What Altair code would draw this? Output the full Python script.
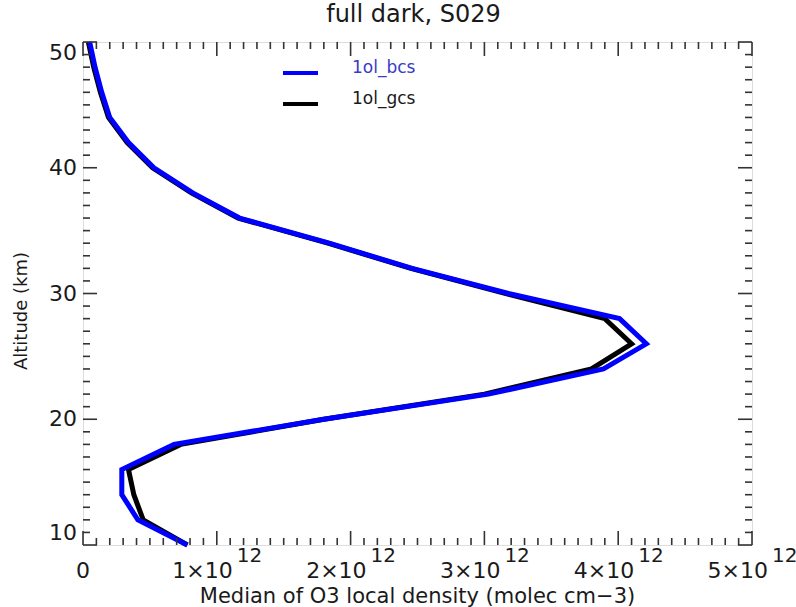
import altair as alt
import pandas as pd
import numpy as np

# Median O3 local density profiles (molec cm-3) on a 2 km altitude grid
altitude_km = [50, 48, 46, 44, 42, 40, 38, 36, 34, 32, 30, 28, 26, 24, 22, 20, 18, 16, 14, 12, 10]
o3_bcs = [0.05e12, 0.09e12, 0.14e12, 0.20e12, 0.34e12, 0.53e12, 0.82e12, 1.17e12, 1.84e12, 2.46e12,
          3.18e12, 4.01e12, 4.21e12, 3.89e12, 3.03e12, 1.80e12, 0.68e12, 0.29e12, 0.29e12, 0.41e12, 0.78e12]
o3_gcs = [0.04e12, 0.08e12, 0.13e12, 0.19e12, 0.33e12, 0.52e12, 0.81e12, 1.16e12, 1.83e12, 2.45e12,
          3.16e12, 3.90e12, 4.10e12, 3.80e12, 3.00e12, 1.80e12, 0.73e12, 0.34e12, 0.38e12, 0.45e12, 0.78e12]

series_names = ["1ol_bcs", "1ol_gcs"]
series_colors = ["#0000ff", "#000000"]
legend_text_colors = ["#3a3ac8", "#1a1a1a"]

x_tick_values = [0, 1e12, 2e12, 3e12, 4e12, 5e12]
x_tick_base = ["0", "1×10", "2×10", "3×10", "4×10", "5×10"]
x_tick_exp = ["", "12", "12", "12", "12", "12"]
y_tick_values = [10, 20, 30, 40, 50]
y_tick_labels = ["10", "20", "30", "40", "50"]

title_text = "full dark, S029"
x_title = "Median of O3 local density (molec cm−3)"
y_title = "Altitude (km)"

W, H = 669, 503
FONT = "DejaVu Sans"
INK = "#1a1a1a"
AX = "#333333"

xs = alt.Scale(domain=[0, 5e12], nice=False, zero=False)
ys = alt.Scale(domain=[10, 50], nice=False, zero=False)

df_bcs = pd.DataFrame({"alt": altitude_km, "density": o3_bcs})
df_gcs = pd.DataFrame({"alt": altitude_km, "density": o3_gcs})


def profile(df, color):
    return alt.Chart(df).mark_line(strokeWidth=5, color=color, strokeJoin="miter").encode(
        x=alt.X("density:Q", scale=xs, axis=None),
        y=alt.Y("alt:Q", scale=ys, axis=None),
        order=alt.Order("alt:Q"),
    )


def x_ticks(vals, length, top):
    d = pd.DataFrame({"v": vals})
    if top:
        y, y2 = alt.value(0), alt.value(length)
    else:
        y, y2 = alt.value(H), alt.value(H - length)
    return alt.Chart(d).mark_rule(color=AX, strokeWidth=1.6).encode(
        x=alt.X("v:Q", scale=xs, axis=None), y=y, y2=y2)


def y_ticks(vals, length, right):
    d = pd.DataFrame({"v": vals})
    if right:
        x, x2 = alt.value(W), alt.value(W - length)
    else:
        x, x2 = alt.value(0), alt.value(length)
    return alt.Chart(d).mark_rule(color=AX, strokeWidth=1.6).encode(
        y=alt.Y("v:Q", scale=ys, axis=None), x=x, x2=x2)


x_major = x_tick_values
x_minor = [v for v in np.arange(0, 5e12 + 1, 1e11) if v not in x_major]
y_major = y_tick_values
y_minor = [v for v in range(10, 51) if v not in y_major]

tick_layers = []
for side in (False, True):
    tick_layers += [
        x_ticks(x_major, 14, side), x_ticks(x_minor, 7, side),
        y_ticks(y_major, 14, side), y_ticks(y_minor, 7, side),
    ]

# x tick labels written as N×10 with a raised exponent
lab = pd.DataFrame({"v": x_tick_values, "base": x_tick_base, "exp": x_tick_exp})
zero_lab = alt.Chart(lab[lab["exp"] == ""]).mark_text(
    font=FONT, fontSize=22, color=INK, align="center", baseline="middle"
).encode(x=alt.X("v:Q", scale=xs, axis=None), y=alt.value(H + 26), text="base:N")
base_lab = alt.Chart(lab[lab["exp"] != ""]).mark_text(
    font=FONT, fontSize=22, color=INK, align="right", baseline="middle", dx=16
).encode(x=alt.X("v:Q", scale=xs, axis=None), y=alt.value(H + 26), text="base:N")
exp_lab = alt.Chart(lab[lab["exp"] != ""]).mark_text(
    font=FONT, fontSize=20, color=INK, align="left", baseline="middle", dx=20
).encode(x=alt.X("v:Q", scale=xs, axis=None), y=alt.value(H + 11), text="exp:N")

# y tick labels; the end labels sit inside the axis range
ylab = pd.DataFrame({"v": y_tick_values, "t": y_tick_labels})
ylab_layers = []
for sel, base in ((ylab["v"] == 10, "bottom"), ((ylab["v"] > 10) & (ylab["v"] < 50), "middle"),
                  (ylab["v"] == 50, "top")):
    ylab_layers.append(
        alt.Chart(ylab[sel]).mark_text(
            font=FONT, fontSize=22, color=INK, align="right", baseline=base, dy=1 if base == "top" else 0
        ).encode(y=alt.Y("v:Q", scale=ys, axis=None), x=alt.value(-6), text="t:N")
    )

# titles
one = pd.DataFrame({"title": [title_text], "xt": [x_title], "yt": [y_title]})
title_layer = alt.Chart(one).mark_text(
    font=FONT, fontSize=24, color=INK, align="center", baseline="middle"
).encode(x=alt.value(W / 2 - 4), y=alt.value(-27), text="title:N")
xtitle_layer = alt.Chart(one).mark_text(
    font=FONT, fontSize=21, color=INK, align="center", baseline="middle"
).encode(x=alt.value(W / 2), y=alt.value(H + 52), text="xt:N")
ytitle_layer = alt.Chart(one).mark_text(
    font=FONT, fontSize=18, color=INK, align="center", baseline="middle", angle=270
).encode(x=alt.value(-61), y=alt.value(269), text="yt:N")

# legend: short line samples with series names
leg = pd.DataFrame({"name": series_names, "row": [0, 1]})
legend_layers = []
for i, name in enumerate(series_names):
    ly = 31 + 31 * i
    legend_layers.append(
        alt.Chart(leg[leg["row"] == i]).mark_rule(strokeWidth=4, color=series_colors[i]).encode(
            x=alt.value(200), x2=alt.value(235), y=alt.value(ly))
    )
    legend_layers.append(
        alt.Chart(leg[leg["row"] == i]).mark_text(
            font=FONT, fontSize=17, color=legend_text_colors[i], align="left", baseline="middle"
        ).encode(x=alt.value(269), y=alt.value(ly - 5), text="name:N")
    )

chart = alt.layer(
    profile(df_gcs, series_colors[1]),
    profile(df_bcs, series_colors[0]),
    *tick_layers,
    zero_lab, base_lab, exp_lab,
    *ylab_layers,
    title_layer, xtitle_layer, ytitle_layer,
    *legend_layers,
).properties(
    width=W, height=H,
    autosize=alt.AutoSizeParams(type="none"),
    padding={"left": 83, "top": 42, "right": 44, "bottom": 62},
).configure_view(
    stroke=AX, strokeWidth=2
).configure(background="white")

chart.save("out.html", embed_options={"renderer": "svg", "actions": False})
